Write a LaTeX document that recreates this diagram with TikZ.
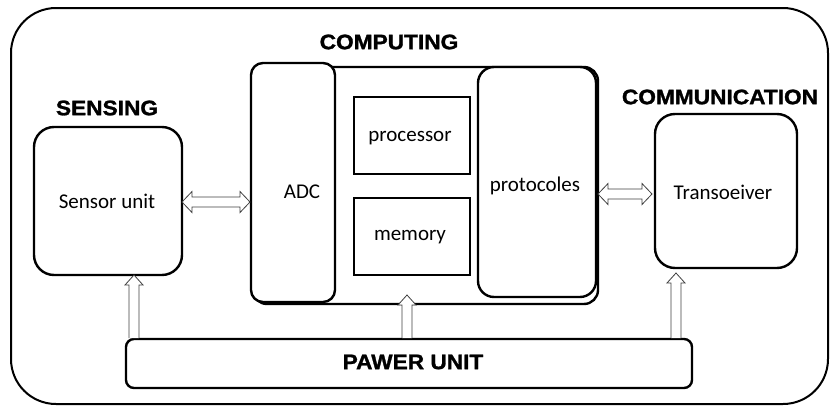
\documentclass[tikz,border=0pt]{standalone}
\usepackage{fontspec}
\setmainfont{Carlito}
\newfontfamily\headfont[FakeBold=1.3]{Liberation Sans Bold}
\usetikzlibrary{calc}
\begin{document}
\begin{tikzpicture}[x=1pt,y=-1pt,
  box/.style={draw=black,line width=2.4pt,fill=white},
  body/.style={font=\fontsize{21}{24}\selectfont},
  head/.style={font=\headfont\fontsize{21}{24}\selectfont,xscale=1.08},
  fat/.style={draw=black!75,line width=0.8pt,fill=white,line join=miter}]
\newcommand{\hfat}[2]{% double-headed horizontal hollow arrow between coordinates #1 and #2
  \path[fat] ($(#1)$) -- ($(#1)+(10,-10.5)$) -- ($(#1)+(10,-5)$) -- ($(#2)+(-10,-5)$)
    -- ($(#2)+(-10,-10.5)$) -- ($(#2)$) -- ($(#2)+(-10,10.5)$) -- ($(#2)+(-10,5)$)
    -- ($(#1)+(10,5)$) -- ($(#1)+(10,10.5)$) -- cycle;}
\newcommand{\vfat}[2]{% upward hollow arrow from #1 (base) to #2 (tip)
  \path[fat] ($(#1)+(-5,0)$) -- ($(#2)+(-5,10)$) -- ($(#2)+(-9,10)$) -- ($(#2)$)
    -- ($(#2)+(9,10)$) -- ($(#2)+(5,10)$) -- ($(#1)+(5,0)$);}
\useasboundingbox (0,0) rectangle (830,410);
\draw[line width=2pt,rounded corners=45] (11,8) rectangle (828,404);
% computing
\draw[box,rounded corners=14] (253,67) rectangle (598,304);
\node[box,rounded corners=12,minimum width=84pt,minimum height=239pt,inner sep=0pt] (adc) at (293,182.5) {};
\node[box,rounded corners=16,minimum width=118pt,minimum height=230pt,inner sep=0pt] (prot) at (537,182) {};
\node[box,minimum width=116pt,minimum height=77pt,inner sep=0pt] (proc) at (412,135.5) {};
\node[box,minimum width=116pt,minimum height=77pt,inner sep=0pt] (mem) at (412,236.5) {};
\node[body] at (302,192) {ADC};
\node[body] at (535,186) {protocoles};
\node[body] at (410,138) {processor};
\node[body] at (410,237) {memory};
% sensing
\node[box,rounded corners=20,minimum width=148pt,minimum height=148pt,inner sep=0pt] (sens) at (108,201) {};
\node[body] at (107,201) {Sensor unit};
% communication
\node[box,rounded corners=20,minimum width=142pt,minimum height=154pt,inner sep=0pt] (trans) at (726,191) {};
\node[body] at (723,192) {Transoeiver};
% power
\node[box,rounded corners=8,minimum width=566pt,minimum height=49pt,inner sep=0pt] (pow) at (409,363.5) {};
\node[head] at (413,362) {PAWER UNIT};
% labels
\node[head] (lsens) at (107,108) {SENSING};
\node[head] (lcomp) at (389,42) {COMPUTING};
\node[head] (lcomm) at (720,97) {COMMUNICATION};
% arrows
\coordinate (a1) at (182,202);
\coordinate (a2) at (250,202);
\hfat{a1}{a2}
\coordinate (b1) at (598,194);
\coordinate (b2) at (652,194);
\hfat{b1}{b2}
\coordinate (c1) at (134,338);
\coordinate (c2) at (134,275);
\vfat{c1}{c2}
\coordinate (d1) at (407,338);
\coordinate (d2) at (407,295);
\vfat{d1}{d2}
\coordinate (e1) at (676,338);
\coordinate (e2) at (676,273);
\vfat{e1}{e2}
\end{tikzpicture}
\end{document}
